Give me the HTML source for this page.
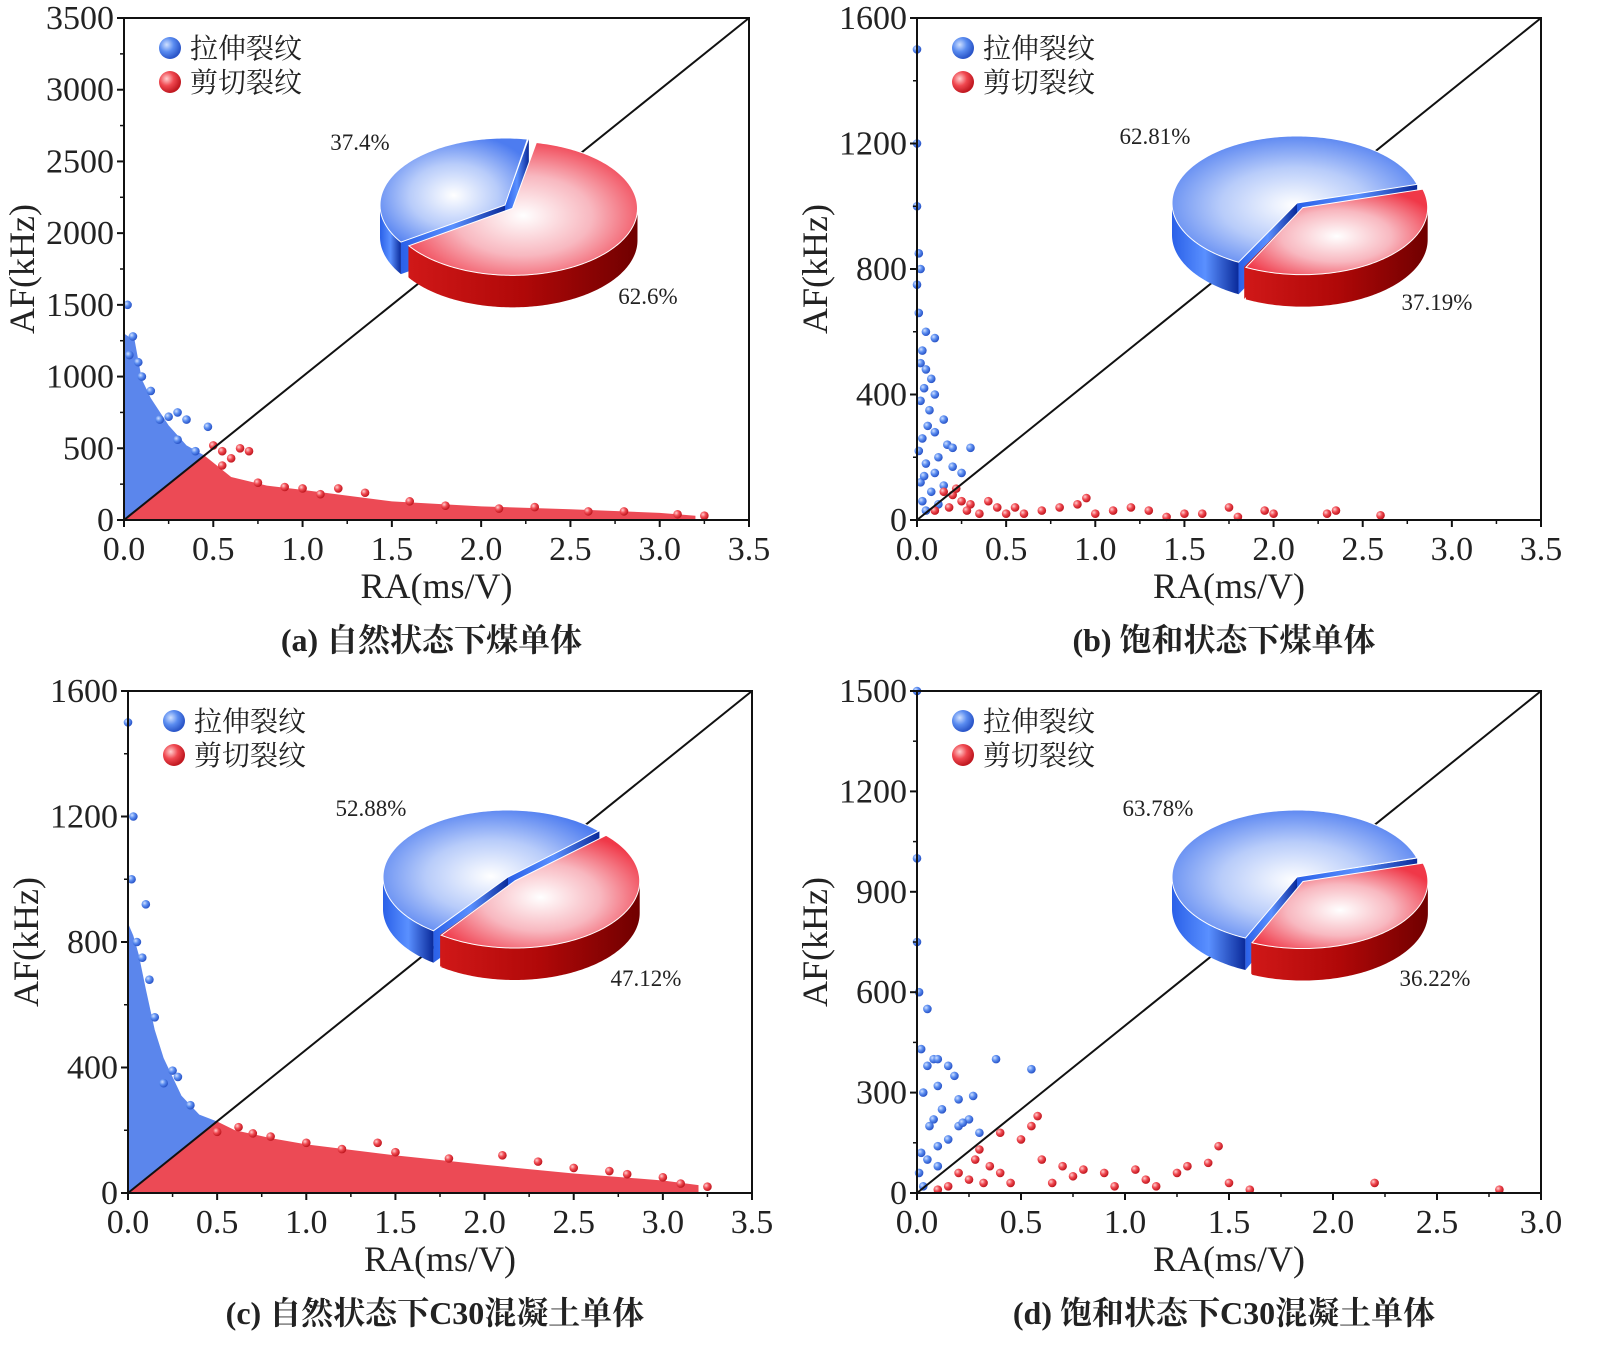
<!DOCTYPE html>
<html><head><meta charset="utf-8">
<style>
body{margin:0;background:#fff;}
svg{display:block;}
text{font-family:"Liberation Serif","Noto Serif CJK SC",serif;fill:#222;}
</style></head>
<body>
<svg id="root" width="1599" height="1361" viewBox="0 0 1599 1361" xmlns="http://www.w3.org/2000/svg">
<defs>
<radialGradient id="gBlueDot" cx="35%" cy="35%" r="65%"><stop offset="0" stop-color="#cfe0ff"/><stop offset="0.5" stop-color="#5a8cf0"/><stop offset="1" stop-color="#2a55c8"/></radialGradient>
<radialGradient id="gRedDot" cx="35%" cy="35%" r="65%"><stop offset="0" stop-color="#ffd0d0"/><stop offset="0.5" stop-color="#f04850"/><stop offset="1" stop-color="#c01820"/></radialGradient>
<radialGradient id="gBlueTop" cx="50%" cy="55%" r="60%"><stop offset="0" stop-color="#ffffff"/><stop offset="0.5" stop-color="#b8ccfa"/><stop offset="1" stop-color="#4d7cf0"/></radialGradient>
<radialGradient id="gRedTop" cx="50%" cy="55%" r="60%"><stop offset="0" stop-color="#ffffff"/><stop offset="0.5" stop-color="#f8b8c0"/><stop offset="1" stop-color="#f03848"/></radialGradient>
<linearGradient id="gBlueSide" x1="0" x2="1" y1="0" y2="0"><stop offset="0" stop-color="#2a60e8"/><stop offset="0.5" stop-color="#5a90ff"/><stop offset="1" stop-color="#0a2a9a"/></linearGradient>
<linearGradient id="gRedSide" x1="0" x2="1" y1="0" y2="0"><stop offset="0" stop-color="#d01818"/><stop offset="0.5" stop-color="#b00808"/><stop offset="1" stop-color="#700000"/></linearGradient>
</defs>
</svg>
<script>
// ---------- data ----------
const panelTitles = ["(a) 自然状态下煤单体","(b) 饱和状态下煤单体","(c) 自然状态下C30混凝土单体","(d) 饱和状态下C30混凝土单体"];
const xMaxes = [3.5,3.5,3.5,3.0];
const yMaxes = [3500,1600,1600,1500];
const yTickSteps = [500,400,400,300];
const tensilePct = [37.4,62.81,52.88,63.78];
const shearPct = [62.6,37.19,47.12,36.22];

// density envelopes [RA, AF]
const blueEnvA = [[0,0],[0,1300],[0.06,1250],[0.1,980],[0.15,850],[0.25,660],[0.35,520],[0.45,450]];
const redEnvA = [[0,0],[0.45,450],[0.5,400],[0.6,300],[0.8,240],[1.0,210],[1.5,130],[2.0,95],[2.5,75],[3.0,50],[3.2,30],[3.2,0]];
const blueEnvC = [[0,0],[0,860],[0.03,820],[0.06,760],[0.1,650],[0.15,520],[0.2,430],[0.3,310],[0.4,250],[0.5,228]];
const redEnvC = [[0,0],[0.5,228],[0.6,200],[0.8,175],[1.0,155],[1.5,120],[2.0,90],[2.5,62],[3.0,40],[3.2,25],[3.2,0]];
const blueEnvs = [blueEnvA,[],blueEnvC,[]];
const redEnvs = [redEnvA,[],redEnvC,[]];

const bluePtsA = [[0.02,1500],[0.05,1280],[0.03,1150],[0.3,750],[0.35,700],[0.47,650],[0.25,720],[0.1,1000],[0.2,700],[0.4,480],[0.15,900],[0.3,560],[0.08,1100]];
const redPtsA = [[0.5,520],[0.55,480],[0.65,500],[0.7,480],[0.6,430],[0.55,380],[1.2,220],[1.0,220],[1.35,190],[0.9,230],[1.6,130],[2.3,90],[2.8,60],[3.1,40],[3.25,30],[1.8,100],[2.1,80],[2.6,60],[1.1,180],[0.75,260]];
const bluePtsB = [[0,1500],[0,1200],[0,1000],[0.01,850],[0.02,800],[0,750],[0.01,660],[0.05,600],[0.1,580],[0.03,540],[0.02,500],[0.05,480],[0.08,450],[0.04,420],[0.1,400],[0.02,380],[0.07,350],[0.15,320],[0.06,300],[0.1,280],[0.03,260],[0.17,240],[0.2,230],[0.3,230],[0.12,200],[0.05,180],[0.2,170],[0.25,150],[0.1,150],[0.02,120],[0.15,110],[0.08,90],[0.03,60],[0.12,50],[0.05,30],[0.01,220],[0.04,140]];
const redPtsB = [[0.1,30],[0.2,80],[0.25,60],[0.3,50],[0.4,60],[0.45,40],[0.35,20],[0.5,20],[0.55,40],[0.6,20],[0.7,30],[0.8,40],[0.9,50],[0.95,70],[1.0,20],[1.1,30],[1.2,40],[1.3,30],[1.4,10],[1.5,20],[1.6,20],[1.75,40],[1.8,10],[1.95,30],[2.0,20],[2.3,20],[2.35,30],[2.6,15],[0.15,90],[0.22,100],[0.18,40],[0.28,30]];
const bluePtsC = [[0,1500],[0.03,1200],[0.02,1000],[0.1,920],[0.05,800],[0.12,680],[0.25,390],[0.28,370],[0.2,350],[0.08,750],[0.15,560],[0.35,280]];
const redPtsC = [[0.62,210],[0.5,195],[0.8,180],[1.0,160],[1.4,160],[1.5,130],[2.1,120],[2.3,100],[2.5,80],[2.8,60],[3.0,50],[3.1,30],[3.25,20],[0.7,190],[1.2,140],[1.8,110],[2.7,70]];
const bluePtsD = [[0,1500],[0,1000],[0,750],[0.01,600],[0.05,550],[0.02,430],[0.08,400],[0.1,400],[0.05,380],[0.15,380],[0.18,350],[0.1,320],[0.03,300],[0.2,280],[0.12,250],[0.25,220],[0.08,220],[0.06,200],[0.2,200],[0.3,180],[0.15,160],[0.1,140],[0.02,120],[0.05,100],[0.1,80],[0.01,60],[0.03,20],[0.38,400],[0.55,370],[0.27,290],[0.22,210]];
const redPtsD = [[0.3,130],[0.4,180],[0.55,200],[0.58,230],[0.6,100],[0.5,160],[0.35,80],[0.28,100],[0.2,60],[0.25,40],[0.15,20],[0.1,10],[0.45,30],[0.7,80],[0.75,50],[0.8,70],[0.9,60],[0.95,20],[1.05,70],[1.1,40],[1.15,20],[1.25,60],[1.3,80],[1.4,90],[1.45,140],[1.5,30],[1.6,10],[2.2,30],[2.8,10],[0.65,30],[0.4,60],[0.32,30]];
const bluePts = [bluePtsA,bluePtsB,bluePtsC,bluePtsD];
const redPts = [redPtsA,redPtsB,redPtsC,redPtsD];

// ---------- layout ----------
const boxes = [{L:124,T:18,R:749,B:520},{L:917,T:18,R:1541,B:520},{L:128,T:691,R:752,B:1193},{L:917,T:691,R:1541,B:1193}];
const pies = [{cx:505,cy:205,end:281},{cx:1297,cy:203,end:344},{cx:508,cy:877,end:317},{cx:1297,cy:877,end:344}];
const pctPos = [[[360,150],[648,304]],[[1155,144],[1437,310]],[[371,816],[646,986]],[[1158,816],[1435,986]]];

const NS="http://www.w3.org/2000/svg";
const root=document.getElementById('root');
function mk(tag,attrs,parent){const e=document.createElementNS(NS,tag);for(const k in attrs)e.setAttribute(k,attrs[k]);(parent||root).appendChild(e);return e;}

function drawPanel(i){
  const b=boxes[i], xm=xMaxes[i], ym=yMaxes[i];
  const g=mk('g',{});
  
  
  const sx=v=>b.L+(v/xm)*(b.R-b.L);
  const sy=v=>b.B-(v/ym)*(b.B-b.T);
  const envs=[[blueEnvs[i],'#5b86ec'],[redEnvs[i],'#ec4a55']];
  envs.forEach(([env,col],k)=>{
    if(!env.length)return;
    const p=mk('polygon',{points:env.map(d=>sx(d[0])+','+sy(d[1])).join(' '),fill:col},g);
    
    
  });
  [[bluePts[i],'url(#gBlueDot)'],[redPts[i],'url(#gRedDot)']].forEach(([pts,f],k)=>{
    pts.forEach(d=>{
      const c=mk('circle',{cx:sx(d[0]),cy:sy(d[1]),r:4.3,fill:f},g);
      
      
    });
  });
  const dl=mk('line',{x1:b.L,y1:b.B,x2:b.R,y2:b.T,stroke:'#111','stroke-width':2},g);
  
  
  const fr=mk('rect',{x:b.L,y:b.T,width:b.R-b.L,height:b.B-b.T,fill:'none',stroke:'#111','stroke-width':2},g);
  
  
  const ys=yTickSteps[i];
  for(let v=0;v<=ym+1e-6;v+=ys){
    mk('line',{x1:b.L-7,x2:b.L,y1:sy(v),y2:sy(v),stroke:'#111','stroke-width':2},g);
    if(v+ys/2<ym) mk('line',{x1:b.L-4,x2:b.L,y1:sy(v+ys/2),y2:sy(v+ys/2),stroke:'#111','stroke-width':1.5},g);
    const t=mk('text',{x:b.L-10,y:sy(v)+11,'text-anchor':'end','font-size':34},g);t.textContent=v;
    
    
  }
  for(let v=0;v<=xm+1e-6;v+=0.5){
    mk('line',{x1:sx(v),x2:sx(v),y1:b.B,y2:b.B+7,stroke:'#111','stroke-width':2},g);
    if(v+0.25<xm) mk('line',{x1:sx(v+0.25),x2:sx(v+0.25),y1:b.B,y2:b.B+4,stroke:'#111','stroke-width':1.5},g);
    const t=mk('text',{x:sx(v),y:b.B+40,'text-anchor':'middle','font-size':34},g);t.textContent=v.toFixed(1);
    
    
  }
  const xt=mk('text',{x:(b.L+b.R)/2,y:b.B+78,'text-anchor':'middle','font-size':36},g);xt.textContent='RA(ms/V)';
  
  
  const yc=(b.T+b.B)/2, yx=b.L-90;
  const yt=mk('text',{x:yx,y:yc,'text-anchor':'middle','font-size':36,transform:`rotate(-90 ${yx} ${yc})`},g);yt.textContent='AF(kHz)';
  
  
  const cap=mk('text',{x:(b.L+b.R)/2-5,y:b.B+131,'text-anchor':'middle','font-size':32,'font-weight':'bold'},g);cap.textContent=panelTitles[i];
  
  
  const lx=b.L+46, ly=b.T+30;
  [['拉伸裂纹','url(#gBlueDot)'],['剪切裂纹','url(#gRedDot)']].forEach(([lab,f],k)=>{
    const c=mk('circle',{cx:lx,cy:ly+k*34,r:11,fill:f},g);
    
    
    const t=mk('text',{x:lx+20,y:ly+k*34+10,'font-size':28},g);t.textContent=lab;
    
    
  });
  drawPie(i,g);
}

function drawPie(i,g){
  const p=pies[i], rx=125, ry=67, D=32;
  const span=tensilePct[i]/100*360;
  const bStart=p.end-span, bEnd=p.end, rStart=p.end, rEnd=p.end+360-span;
  const rMid=(rStart+rEnd)/2*Math.PI/180;
  const slices=[{a:bStart,b:bEnd,ox:0,oy:0,top:'url(#gBlueTop)',side:'url(#gBlueSide)',name:'pie-tensile-slice'},
                {a:rStart,b:rEnd,ox:9*Math.cos(rMid),oy:6*Math.sin(rMid),top:'url(#gRedTop)',side:'url(#gRedSide)',name:'pie-shear-slice'}];
  const pg=mk('g',{},g);
  
  
  const pt=(s,t,dy)=>{const r=t*Math.PI/180;return [p.cx+s.ox+rx*Math.cos(r),p.cy+s.oy+ry*Math.sin(r)+dy];};
  slices.forEach(s=>{
    const sg=mk('g',{},pg);
    
    
    const c=[p.cx+s.ox,p.cy+s.oy];
    [s.a,s.b].forEach(t=>{
      const e=pt(s,t,0);
      mk('polygon',{points:[c,e,[e[0],e[1]+D],[c[0],c[1]+D]].map(q=>q.join(',')).join(' '),fill:s.side},sg);
    });
    let front=[];
    for(let t=s.a;t<=s.b;t+=1){const m=((t%360)+360)%360;if(m>=0&&m<=180)front.push(t);}
    if(front.length>1){
      const top=front.map(t=>pt(s,t,0)), bot=front.slice().reverse().map(t=>pt(s,t,D));
      mk('polygon',{points:top.concat(bot).map(q=>q.join(',')).join(' '),fill:s.side},sg);
    }
    const arr=[c];for(let t=s.a;t<=s.b+0.01;t+=1)arr.push(pt(s,Math.min(t,s.b),0));
    mk('polygon',{points:arr.map(q=>q.join(',')).join(' '),fill:s.top,stroke:'#fff','stroke-width':1},sg);
  });
  [[tensilePct[i],pctPos[i][0]],[shearPct[i],pctPos[i][1]]].forEach(([v,pos],k)=>{
    const t=mk('text',{x:pos[0],y:pos[1],'text-anchor':'middle','font-size':23},pg);t.textContent=v+'%';
    
    
  });
}
for(let i=0;i<4;i++)drawPanel(i);
</script>
</body></html>
